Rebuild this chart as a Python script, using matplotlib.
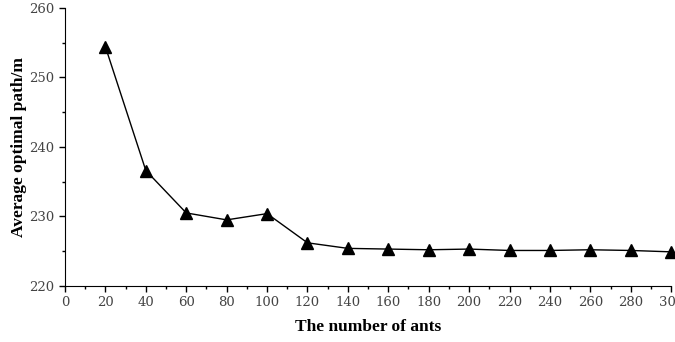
import matplotlib
matplotlib.use('Agg')
import matplotlib.pyplot as plt
from matplotlib.ticker import MultipleLocator

# number of ants vs. average optimal path length
ants = [20, 40, 60, 80, 100, 120, 140, 160, 180, 200, 220, 240, 260, 280, 300]
avg_path = [254.4, 236.6, 230.5, 229.5, 230.4, 226.2, 225.4, 225.3, 225.2,
            225.3, 225.1, 225.1, 225.2, 225.1, 224.9]

plt.rcParams['font.family'] = ['Liberation Serif', 'DejaVu Serif']

fig = plt.figure(figsize=(6.75, 3.42), dpi=100)
ax = fig.add_axes([0.0963, 0.164, 0.898, 0.813])

ax.plot(ants, avg_path, color='black', linewidth=1.0,
        marker='^', markersize=9, markerfacecolor='black', clip_on=False)

ax.set_xlim(0, 300)
ax.set_ylim(220, 260)
ax.xaxis.set_major_locator(MultipleLocator(20))
ax.xaxis.set_minor_locator(MultipleLocator(10))
ax.yaxis.set_major_locator(MultipleLocator(10))
ax.yaxis.set_minor_locator(MultipleLocator(5))

ax.spines['top'].set_visible(False)
ax.spines['right'].set_visible(False)
ax.tick_params(which='major', direction='out', length=4, width=1, labelsize=9.5,
               labelcolor='#444444')
ax.tick_params(which='minor', direction='out', length=2.5, width=1)
for lbl in ax.get_xticklabels() + ax.get_yticklabels():
    lbl.set_family('DejaVu Serif')

ax.set_xlabel('The number of ants', fontsize=12.5, fontweight='bold', labelpad=7)
ax.set_ylabel('Average optimal path/m', fontsize=12.5, fontweight='bold')
ax.yaxis.set_label_coords(-0.063, 0.5)

fig.savefig('out.png', dpi=100)
